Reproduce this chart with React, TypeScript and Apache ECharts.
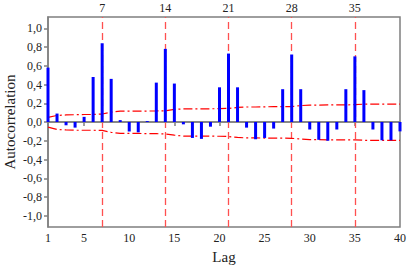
import React, { useEffect, useRef } from "react";
import * as echarts from "echarts";

const lags = Array.from({ length: 40 }, (_, i) => i + 1);
const acf = [
  0.58, 0.09, -0.035, -0.06, 0.055, 0.48, 0.84, 0.46, 0.02, -0.10,
  -0.11, 0.01, 0.42, 0.78, 0.41, -0.025, -0.17, -0.18, -0.05, 0.37,
  0.73, 0.37, -0.06, -0.185, -0.17, -0.07, 0.35, 0.72, 0.35, -0.08,
  -0.19, -0.20, -0.08, 0.35, 0.70, 0.34, -0.08, -0.195, -0.195, -0.10,
];
const upperBand = [
  0.05, 0.07, 0.075, 0.078, 0.08, 0.08, 0.085, 0.105, 0.115, 0.115,
  0.115, 0.117, 0.118, 0.12, 0.135, 0.14, 0.14, 0.14, 0.141, 0.142,
  0.145, 0.155, 0.16, 0.16, 0.162, 0.163, 0.163, 0.165, 0.175, 0.18,
  0.18, 0.182, 0.183, 0.183, 0.185, 0.19, 0.19, 0.19, 0.19, 0.19,
];
const lowerBand = [
  -0.055, -0.08, -0.085, -0.088, -0.088, -0.088, -0.09, -0.11, -0.122, -0.122,
  -0.122, -0.124, -0.125, -0.127, -0.14, -0.15, -0.15, -0.15, -0.151, -0.152,
  -0.155, -0.165, -0.17, -0.17, -0.171, -0.172, -0.172, -0.174, -0.182, -0.188,
  -0.188, -0.19, -0.19, -0.19, -0.19, -0.195, -0.195, -0.195, -0.195, -0.195,
];
const seasonLags = [7, 14, 21, 28, 35];
const xTicks = [1, 5, 10, 15, 20, 25, 30, 35, 40];
const yTicks = [-1.0, -0.8, -0.6, -0.4, -0.2, 0.0, 0.2, 0.4, 0.6, 0.8, 1.0];

const FONT = "Liberation Serif";
const AXIS_GREY = "#7f7f7f";
const TEXT = "#222";

export default function App() {
  const ref = useRef<HTMLDivElement>(null);
  useEffect(() => {
    if (!ref.current) return;
    const chart = echarts.init(ref.current, null, { renderer: "svg" });
    chart.setOption({
      animation: false,
      backgroundColor: "#ffffff",
      grid: {
        left: 48,
        top: 17,
        width: 352,
        height: 210,
        containLabel: false,
        outerBoundsMode: "none",
        show: true,
        borderColor: AXIS_GREY,
        borderWidth: 1.5,
        backgroundColor: "transparent",
      },
      xAxis: {
        type: "value",
        min: 1,
        max: 40,
        name: "Lag",
        nameLocation: "middle",
        nameGap: 22,
        nameMoveOverlap: false,
        nameTextStyle: { fontFamily: FONT, fontSize: 15, color: TEXT },
        axisLine: { show: true, lineStyle: { color: AXIS_GREY, width: 1.5 } },
        axisTick: {
          show: true,
          length: 4,
          customValues: xTicks,
          lineStyle: { color: AXIS_GREY, width: 1.5 },
        },
        axisLabel: {
          customValues: xTicks,
          fontFamily: FONT,
          fontSize: 12,
          color: TEXT,
          margin: 5,
        },
        splitLine: { show: false },
      },
      yAxis: {
        type: "value",
        min: -1.12,
        max: 1.12,
        name: "Autocorrelation",
        nameLocation: "middle",
        nameGap: 31,
        nameMoveOverlap: false,
        nameTextStyle: { fontFamily: FONT, fontSize: 15, color: TEXT },
        axisLine: { show: true, lineStyle: { color: AXIS_GREY, width: 1.5 } },
        axisTick: {
          show: true,
          length: 4,
          customValues: yTicks,
          lineStyle: { color: AXIS_GREY, width: 1.5 },
        },
        axisLabel: {
          customValues: yTicks,
          fontFamily: FONT,
          fontSize: 12,
          color: TEXT,
          margin: 6,
          formatter: (v: number) => v.toFixed(1).replace(".", ","),
        },
        splitLine: { show: false },
      },
      series: [
        {
          type: "line",
          data: lags.map((l, i) => [l, upperBand[i]]),
          symbol: "none",
          lineStyle: { color: "#ff0000", width: 1.2, type: [9, 3, 2, 3] },
          z: 2,
          markLine: {
            silent: true,
            symbol: "none",
            animation: false,
            z: 1,
            data: [
              ...seasonLags.map((s) => ({
                xAxis: s,
                lineStyle: { color: "#ff5050", width: 1.3, type: [7, 4] },
                label: {
                  show: true,
                  position: "end",
                  formatter: String(s),
                  fontFamily: FONT,
                  fontSize: 12,
                  color: TEXT,
                  distance: 3,
                },
              })),
              {
                yAxis: 0,
                lineStyle: { color: AXIS_GREY, width: 1.5, type: "solid" },
                label: { show: false },
              },
            ],
          },
        },
        {
          type: "line",
          data: lags.map((l, i) => [l, lowerBand[i]]),
          symbol: "none",
          lineStyle: { color: "#ff0000", width: 1.2, type: [9, 3, 2, 3] },
          z: 2,
        },
        {
          type: "bar",
          data: lags.map((l, i) => [l, acf[i]]),
          barWidth: 3,
          itemStyle: { color: "#0000ff" },
          z: 3,
        },
      ],
    });
    return () => chart.dispose();
  }, []);
  return (
    <div
      ref={ref}
      style={{ position: "fixed", left: 0, top: 0, width: 408, height: 267 }}
    />
  );
}
